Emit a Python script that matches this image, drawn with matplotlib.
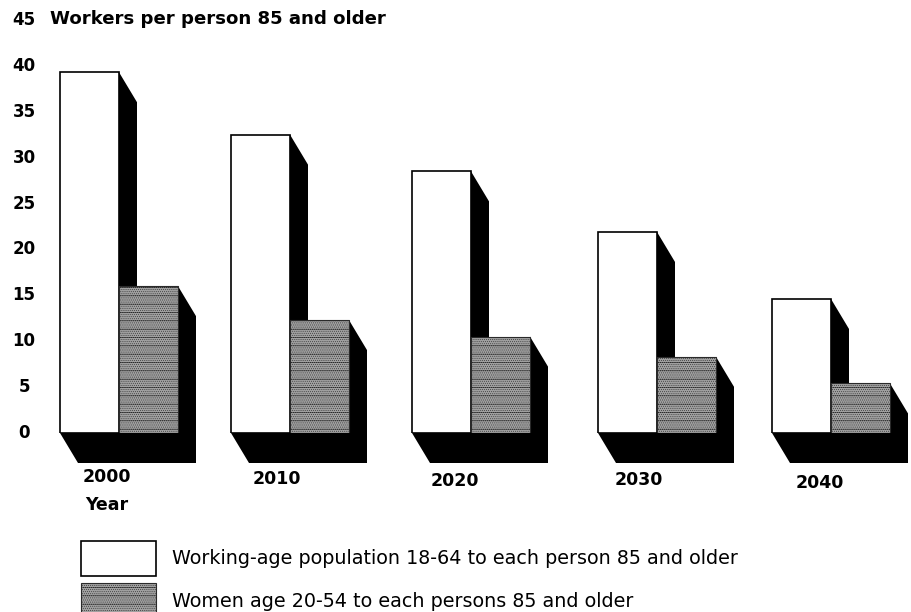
import matplotlib
matplotlib.use("Agg")
import matplotlib.pyplot as plt
from matplotlib.patches import Polygon
from matplotlib.transforms import ScaledTranslation

years = ["2000", "2010", "2020", "2030", "2040"]
workers = [39.3, 32.5, 28.5, 21.9, 14.6]
women = [16.0, 12.3, 10.5, 8.3, 5.4]
yticks = [0, 5, 10, 15, 20, 25, 30, 35, 40, 45]
ylabel_title = "Workers per person 85 and older"
xlabel = "Year"
legend_labels = ["Working-age population 18-64 to each person 85 and older",
                 "Women age 20-54 to each persons 85 and older"]

W, H = 912, 612
PX_PER_UNIT = 9.18
BASE = 433
group_centre = [119, 290, 471, 657, 831]
year_label_px = [(107, 477), (277, 479), (455, 481), (639, 480), (820, 483)]
BAR_W = 59
DX, DY = 18, 30 / PX_PER_UNIT
FONT = "DejaVu Sans"

plt.rcParams["hatch.linewidth"] = 0.35
fig = plt.figure(figsize=(W / 100, H / 100), dpi=100, facecolor="white")
top_px = BASE - 45 * PX_PER_UNIT
ax = fig.add_axes([0, 1 - BASE / H, 1, (BASE - top_px) / H])
ax.set_xlim(0, W)
ax.set_ylim(0, 45)
for s in ax.spines.values():
    s.set_visible(False)
ax.patch.set_visible(False)


def shadow(xr, v):
    """Black extruded side of a bar down to the floor."""
    ax.add_patch(Polygon([(xr, v), (xr + DX, v - DY), (xr + DX, -DY), (xr, -DY)],
                         closed=True, fc="black", ec="none", clip_on=False, zorder=1))


for i, c in enumerate(group_centre):
    xl = c - BAR_W
    xr = c + BAR_W
    ax.add_patch(Polygon([(xl, 0), (xl + DX, -DY), (xr + DX, -DY), (xr + DX, 0), (xr, 0)],
                         closed=True, fc="black", ec="none", clip_on=False, zorder=1))
    shadow(c, workers[i])
    shadow(xr, women[i])
    ax.bar(c - BAR_W / 2, workers[i], BAR_W, color="white", edgecolor="black", lw=1.2,
           zorder=2, label=legend_labels[0] if i == 0 else None)
    ax.bar(c + BAR_W / 2, women[i], BAR_W, facecolor="#a0a0a0", edgecolor="#2a2a2a", lw=0.8,
           hatch="........--", zorder=3, label=legend_labels[1] if i == 0 else None)

ax.set_xticks([])
ax.set_yticks(yticks)
ax.set_yticklabels([str(t) for t in yticks], fontsize=12, fontweight="bold", family=FONT, ha="center")
ax.tick_params(axis="y", length=0, pad=0)
off = ScaledTranslation(24 / 100, 2 / 100, fig.dpi_scale_trans)
for lab in ax.get_yticklabels():
    lab.set_transform(lab.get_transform() + off)

px = lambda x, y: (x, (BASE - y) / PX_PER_UNIT)
ax.text(*px(50, 19), ylabel_title, fontsize=13.1, fontweight="bold", family=FONT, va="center", ha="left", clip_on=False)
for y, (lx, ly) in zip(years, year_label_px):
    ax.text(*px(lx, ly), y, fontsize=12.5, fontweight="bold", family=FONT, va="center", ha="center", clip_on=False)
ax.text(*px(107, 505), xlabel, fontsize=12.5, fontweight="bold", family=FONT, va="center", ha="center", clip_on=False)

F = 13.8
handles, labels = ax.get_legend_handles_labels()
leg = ax.legend(handles, labels, loc="upper left", bbox_to_anchor=(81 / W, 1 - 541 / H), bbox_transform=fig.transFigure,
                frameon=False, borderpad=0, borderaxespad=0,
                handlelength=75 * .72 / F, handleheight=2.43, labelspacing=0.38,
                handletextpad=16 * .72 / F, prop={"family": FONT, "size": F})
fig.savefig("out.png", dpi=100, facecolor="white")
